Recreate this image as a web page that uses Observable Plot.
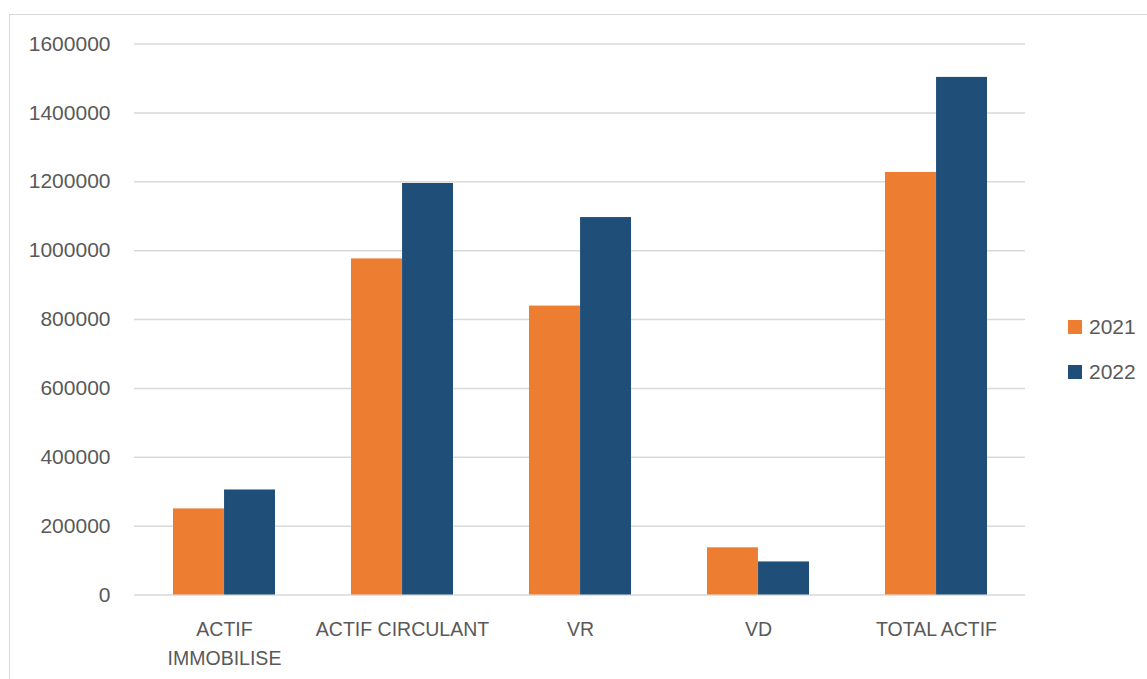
<!DOCTYPE html>
<html>
<head>
<meta charset="utf-8">
<script src="https://cdn.jsdelivr.net/npm/d3@7"></script>
<script src="https://cdn.jsdelivr.net/npm/@observablehq/plot@0.6"></script>
<style>
  html, body { margin: 0; padding: 0; background: #fff; overflow: hidden; }
  #frame { position: absolute; left: 9px; top: 14px; width: 1200px; height: 700px;
           border: 1px solid #d9d9d9; background: #fff; }
  #chart { position: absolute; left: 0; top: 0; }
  #legend { position: absolute; left: 1058px; top: 289px; font-family: "Liberation Sans", Arial, sans-serif;
            font-size: 21px; color: #595959; }
  .item { display: flex; align-items: center; height: 45px; }
  .sw { width: 14px; height: 14px; margin-right: 7px; }
</style>
</head>
<body>
<div id="frame"><div id="chart"></div><div id="legend"></div></div>
<script>
const categories = ["ACTIF IMMOBILISE", "ACTIF CIRCULANT", "VR", "VD", "TOTAL ACTIF"];
const categoryLabels = ["ACTIF\nIMMOBILISE", "ACTIF CIRCULANT", "VR", "VD", "TOTAL ACTIF"];
const years = ["2021", "2022"];
const values2021 = [250000, 976000, 839000, 137000, 1227000];
const values2022 = [305000, 1195000, 1096000, 96000, 1503000];
const yTicks = [0, 200000, 400000, 600000, 800000, 1000000, 1200000, 1400000, 1600000];
const colors = ["#ED7D31", "#1F4E79"];

const data2021 = categories.map((c, i) => ({category: c, year: years[0], value: values2021[i]}));
const data2022 = categories.map((c, i) => ({category: c, year: years[1], value: values2022[i]}));

const W = 1040, H = 660, mL = 124, mR = 25, mT = 28.5, mB = 80.5;
const pInner = 0.427, pOuter = 0.2135;
const step = (W - mL - mR) / (categories.length - pInner + 2 * pOuter);
const half = step * (1 - pInner) / 2;

const chart = Plot.plot({
  width: W, height: H,
  marginLeft: mL, marginRight: mR, marginTop: mT, marginBottom: mB,
  style: {fontFamily: "Liberation Sans, Arial, sans-serif", background: "transparent"},
  x: {domain: categories, paddingInner: pInner, paddingOuter: pOuter, label: null},
  y: {domain: [0, 1600000], label: null},
  marks: [
    Plot.gridY(yTicks, {stroke: "#d9d9d9", strokeOpacity: 1, strokeWidth: 1.5}),
    Plot.barY(data2021, {x: "category", y: "value", fill: colors[0], insetRight: half}),
    Plot.barY(data2022, {x: "category", y: "value", fill: colors[1], insetLeft: half}),
    Plot.axisY(yTicks, {tickSize: 0, tickPadding: 24, fontSize: 21, fill: "#595959",
      tickFormat: d => String(d), label: null}),
    Plot.axisX({tickSize: 0, tickPadding: 20, fontSize: 19.5, fill: "#595959", lineHeight: 1.49,
      tickFormat: d => categoryLabels[categories.indexOf(d)], label: null})
  ]
});
document.getElementById("chart").appendChild(chart);

const legend = document.getElementById("legend");
years.forEach((y, i) => {
  const item = document.createElement("div");
  item.className = "item";
  const sw = document.createElement("div");
  sw.className = "sw";
  sw.style.background = colors[i];
  const t = document.createElement("span");
  t.textContent = y;
  item.appendChild(sw);
  item.appendChild(t);
  legend.appendChild(item);
});
</script>
</body>
</html>
